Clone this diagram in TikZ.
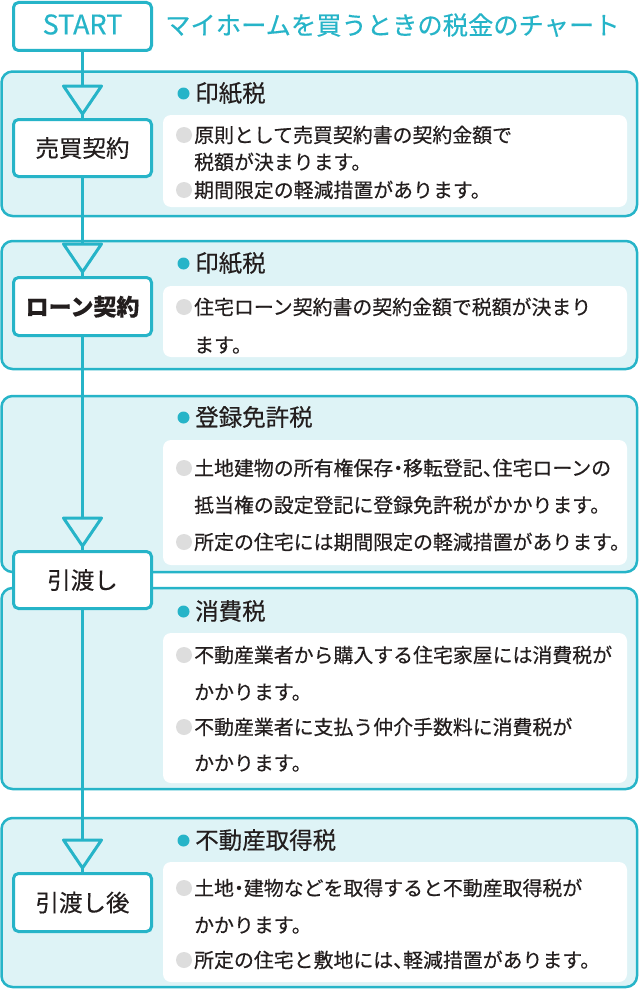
\documentclass[tikz,border=0pt]{standalone}
\usepackage{fontspec}
\setmainfont{Noto Sans CJK JP}[FakeBold=0.35]
\newfontfamily\halfp{Noto Sans CJK JP}[CharacterWidth=AlternateHalf,FakeBold=0.35]
\usetikzlibrary{calc}
\definecolor{teal1}{RGB}{38,180,200}
\definecolor{panelfill}{RGB}{222,243,246}
\definecolor{dotgray}{RGB}{221,221,221}
\definecolor{ink}{RGB}{35,30,30}
\newcommand{\hpunct}[1]{{\halfp #1}}
\tikzset{
  panel/.style={draw=teal1, line width=2.5pt, fill=panelfill, rounded corners=11pt},
  innerbox/.style={fill=white, rounded corners=8pt},
  stepbox/.style={draw=teal1, line width=3pt, fill=white, rounded corners=5pt,
    minimum width=138pt, minimum height=57pt, inner sep=0pt, text=ink,
    font=\fontsize{23.5}{23.5}\selectfont, text height=20.7pt, text depth=2.8pt},
  flow/.style={draw=teal1, line width=3pt},
  tri/.style={draw=teal1, line width=3pt, fill=panelfill, line join=round},
  head/.style={anchor=base west, inner sep=0pt, text=ink, font=\fontsize{23.5}{24}\selectfont},
  body/.style={anchor=base west, inner sep=0pt, text=ink, font=\fontsize{19.9}{20}\selectfont},
  tdot/.style={fill=teal1},
  gdot/.style={fill=dotgray}
}
\begin{document}
\begin{tikzpicture}[x=1pt,y=-1pt]
\useasboundingbox (0,0) rectangle (640,990);
\fill[white] (0,0) rectangle (640,990);

% panels
\path[panel] (1.5,71.5) rectangle (637,216);
\path[panel] (1.5,241) rectangle (637,369);
\path[panel] (1.5,396) rectangle (637,572);
\path[panel] (1.5,588) rectangle (637,789);
\path[panel] (1.5,818) rectangle (637,987);

% inner white boxes
\path[innerbox] (163,115) rectangle (627,207);
\path[innerbox] (163,286) rectangle (627,357);
\path[innerbox] (163,440) rectangle (627,565);
\path[innerbox] (163,633) rectangle (627,783);
\path[innerbox] (163,862) rectangle (627,982);

% title
\node[anchor=base west, inner sep=0pt, text=teal1, font=\fontsize{25.3}{26}\selectfont] (title) at (165,34.6) {マイホームを買うときの税金のチャート};

% headings
\fill[tdot] (183.5,93.5) circle (6);
\node[head] (h1) at (195,101.9) {印紙税};
\fill[tdot] (183.5,263.5) circle (6);
\node[head] (h2) at (195,271.9) {印紙税};
\fill[tdot] (183.5,417.5) circle (6);
\node[head] (h3) at (195,425.9) {登録免許税};
\fill[tdot] (183.5,611.5) circle (6);
\node[head] (h4) at (195,619.9) {消費税};
\fill[tdot] (183.5,840.5) circle (6);
\node[head] (h5) at (195,848.9) {不動産取得税};

% gray bullets
\fill[gdot] (184,135) circle (8);
\fill[gdot] (184,190) circle (8);
\fill[gdot] (184,307) circle (8);
\fill[gdot] (184,468) circle (8);
\fill[gdot] (184,542) circle (8);
\fill[gdot] (184,655) circle (8);
\fill[gdot] (184,727) circle (8);
\fill[gdot] (184,888) circle (8);
\fill[gdot] (184,960) circle (8);

% body text
\node[body] (p1a) at (194,142.5) {原則として売買契約書の契約金額で};
\node[body] (p1b) at (194,169.5) {税額が決まります。};
\node[body] (p1c) at (194,197.5) {期間限定の軽減措置があります。};
\node[body] (p2a) at (194,314.5) {住宅ローン契約書の契約金額で税額が決まり};
\node[body] (p2b) at (194,352.5) {ます。};
\node[body] (p3a) at (194,475.5) {土地建物の所有権保存\hpunct{・}移転登記\hpunct{、}住宅ローンの};
\node[body] (p3b) at (194,512.5) {抵当権の設定登記に登録免許税がかかります。};
\node[body] (p3c) at (194,549.5) {所定の住宅には期間限定の軽減措置があります。};
\node[body] (p4a) at (194,662.5) {不動産業者から購入する住宅家屋には消費税が};
\node[body] (p4b) at (194,699.5) {かかります。};
\node[body] (p4c) at (194,734.5) {不動産業者に支払う仲介手数料に消費税が};
\node[body] (p4d) at (194,770.5) {かかります。};
\node[body] (p5a) at (194,895.5) {土地\hpunct{・}建物などを取得すると不動産取得税が};
\node[body] (p5b) at (194,932.5) {かかります。};
\node[body] (p5c) at (194,967.5) {所定の住宅と敷地には\hpunct{、}軽減措置があります。};

% step boxes
\node[stepbox, minimum height=48pt, text=teal1, font=\fontsize{27}{27}\selectfont,
  text height=19.8pt, text depth=4pt] (start) at (82.5,26.5) {START};
\node[stepbox] (b1) at (82.5,148) {売買契約};
\node[stepbox, minimum height=58pt, font=\fontsize{23}{23}\selectfont\bfseries] (b2) at (82.5,306.5) {ローン契約};
\node[stepbox] (b3) at (82.5,580) {引渡し};
\node[stepbox, minimum height=58pt] (b4) at (82.5,902.5) {引渡し後};

% connectors
\draw[flow] (start.south) -- (b1.north);
\draw[flow] (b1.south) -- (b2.north);
\draw[flow] (b2.south) -- (b3.north);
\draw[flow] (b3.south) -- (b4.north);

% arrow triangles
\foreach \b in {b1,b2,b3,b4}{
  \draw[tri] ($(\b.north)+(-19,-32)$) -- ($(\b.north)+(19,-32)$) -- ($(\b.north)+(0,-4)$) -- cycle;
}
\end{tikzpicture}
\end{document}
